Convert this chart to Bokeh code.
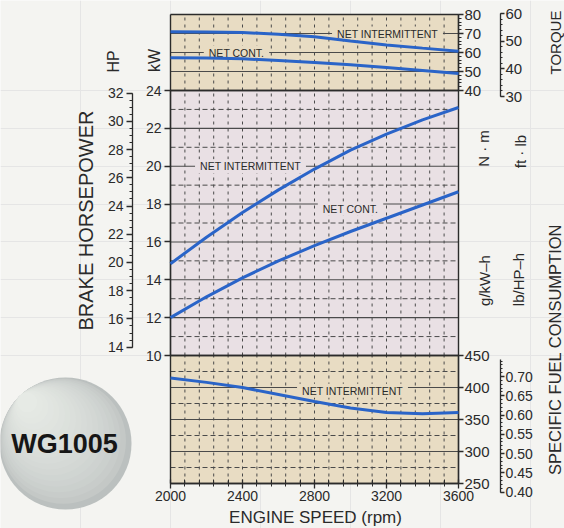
import numpy as np
from bokeh.plotting import figure
from bokeh.models import Range1d, LinearAxis, FixedTicker, Label, PrintfTickFormatter
from bokeh.embed import file_html
from bokeh.resources import INLINE

# ---------------- data ----------------
rpm = [2000, 2200, 2400, 2600, 2800, 3000, 3200, 3400, 3600]
torque_intermittent = [70.9, 70.8, 70.5, 69.6, 68.3, 66.0, 64.0, 62.3, 60.7]      # N·m
torque_continuous = [57.2, 57.1, 56.7, 55.8, 54.7, 53.5, 52.1, 50.5, 48.9]        # N·m
power_intermittent = [14.85, 16.25, 17.55, 18.75, 19.85, 20.85, 21.7, 22.45, 23.1]  # kW
power_continuous = [12.0, 13.1, 14.1, 15.0, 15.8, 16.55, 17.25, 17.95, 18.65]      # kW
fuel_intermittent = [415, 408, 400, 389, 378, 368, 361, 359, 361]                   # g/kW-h

rpm_ticks = [2000, 2400, 2800, 3200, 3600]
kw_ticks = [10, 12, 14, 16, 18, 20, 22, 24]
hp_ticks = [14, 16, 18, 20, 22, 24, 26, 28, 30, 32]
nm_ticks = [40, 50, 60, 70, 80]
ftlb_ticks = [30, 40, 50, 60]
gkwh_ticks = [250, 300, 350, 400, 450]
lbhph_ticks = [0.40, 0.45, 0.50, 0.55, 0.60, 0.65, 0.70]

KW2HP = 1.341

# ---------------- layout (pixels) ----------------
W, H = 564, 528
PX_L, PX_R = 170, 458          # x pixel of 2000 / 3600 rpm
PY_TOP, PY_A, PY_B, PY_BOT = 14, 90, 355, 483

BG = "#f4f4f1"
TAN = "#e8dcc3"
PINK = "#e9e0e4"
GRID = "#4a4a4a"
AX = "#2b2b2b"
TXT = "#2a2a2a"
BLUE = "#2a64c8"
FONT = "Liberation Sans"

sx = (rpm_ticks[-1] - rpm_ticks[0]) / (PX_R - PX_L)
x_range = Range1d(rpm_ticks[0] - PX_L * sx, rpm_ticks[-1] + (W - PX_R) * sx)


def yrange(v_top, py_top, v_bot, py_bot):
    s = (v_top - v_bot) / (py_bot - py_top)
    return Range1d(start=v_bot - (H - py_bot) * s, end=v_top + py_top * s)


kw_range = yrange(kw_ticks[-1], PY_A, kw_ticks[0], PY_B)
torque_range = yrange(nm_ticks[-1], PY_TOP, nm_ticks[0], PY_A)
fuel_range = yrange(gkwh_ticks[-1], PY_B, gkwh_ticks[0], PY_BOT)
hp_range = Range1d(kw_range.start * KW2HP, kw_range.end * KW2HP)
ftlb_range = yrange(60, 13, 30, 96)
lbhp_range = yrange(0.70, 376, 0.40, 491.5)

skw = (kw_range.end - kw_range.start) / H


def X(px):
    return x_range.start + px * sx


def Y(py):
    return kw_range.end - py * skw


p = figure(width=W, height=H, x_range=x_range, y_range=kw_range, title=None,
           output_backend="svg", toolbar_location=None,
           x_axis_location=None, y_axis_location=None, min_border=0,
           background_fill_color=BG, border_fill_color=BG, outline_line_color=None)
p.extra_y_ranges = {"torque": torque_range, "hp": hp_range, "ftlb": ftlb_range,
                    "fuel": fuel_range, "lbhp": lbhp_range}

x0, x1 = rpm_ticks[0], rpm_ticks[-1]
panels = [("torque", nm_ticks[0], nm_ticks[-1], TAN),
          ("default", kw_ticks[0], kw_ticks[-1], PINK),
          ("fuel", gkwh_ticks[0], gkwh_ticks[-1], TAN)]

for name, lo, hi, col in panels:
    p.quad(left=[x0], right=[x1], bottom=[lo], top=[hi], y_range_name=name,
           fill_color=col, line_color=None)

# vertical dashed grid lines
rpm_grid = np.arange(x0 + 80, x1, 80)
for name, lo, hi, col in panels:
    p.segment(x0=rpm_grid, y0=lo, x1=rpm_grid, y1=hi, y_range_name=name,
              line_color=GRID, line_width=1, line_dash="3 4")

# horizontal grid lines
solid = {"torque": [50, 60, 70],
         "default": [12, 14, 16, 18, 20, 22],
         "fuel": [300, 350, 400]}
dashed = {"default": [11, 13, 15, 17, 19, 21, 23],
          "fuel": [275, 325, 375, 425]}
for name, vals in solid.items():
    p.segment(x0=x0, y0=vals, x1=x1, y1=vals, y_range_name=name,
              line_color=GRID, line_width=1.1)
for name, vals in dashed.items():
    p.segment(x0=x0, y0=vals, x1=x1, y1=vals, y_range_name=name,
              line_color=GRID, line_width=1, line_dash="5 3")

# panel borders
for name, lo, hi, col in panels:
    p.segment(x0=[x0, x1, x0, x0], y0=[lo, lo, lo, hi], x1=[x0, x1, x1, x1], y1=[hi, hi, lo, hi],
              y_range_name=name, line_color=AX, line_width=1.4)

# curves (drawn above the curve labels)
p.line(rpm, torque_intermittent, y_range_name="torque", line_color=BLUE, line_width=3, level="overlay")
p.line(rpm, torque_continuous, y_range_name="torque", line_color=BLUE, line_width=3, level="overlay")
p.line(rpm, power_intermittent, line_color=BLUE, line_width=3, level="overlay")
p.line(rpm, power_continuous, line_color=BLUE, line_width=3, level="overlay")
p.line(rpm, fuel_intermittent, y_range_name="fuel", line_color=BLUE, line_width=3, level="overlay")


# axes
def make_axis(side, loc, ticks, minor, bounds, y_name="default", fmt=None, size="14px",
              tick_out=5, minor_out=3, standoff=2, tick_in=0, minor_in=0):
    ax = LinearAxis(y_range_name=y_name, fixed_location=loc, bounds=bounds,
                    ticker=FixedTicker(ticks=list(ticks), minor_ticks=list(minor)),
                    axis_line_color=AX, axis_line_width=1.3,
                    major_tick_line_color=AX, major_tick_line_width=1.3,
                    minor_tick_line_color=AX, minor_tick_line_width=1,
                    major_tick_in=tick_in, major_tick_out=tick_out,
                    minor_tick_in=minor_in, minor_tick_out=minor_out,
                    major_label_standoff=standoff,
                    major_label_text_font=FONT, major_label_text_font_size=size,
                    major_label_text_color=TXT)
    if fmt:
        ax.formatter = PrintfTickFormatter(format=fmt)
    p.add_layout(ax, side)
    return ax


make_axis("below", gkwh_ticks[0], rpm_ticks, np.arange(x0, x1 + 1, 80), (x0, x1),
          y_name="fuel", tick_out=5, tick_in=4, minor_in=4, minor_out=3, standoff=2)
make_axis("left", x0, kw_ticks, [], (kw_ticks[0], kw_ticks[-1]), tick_out=6, standoff=3)
make_axis("left", X(132), hp_ticks, np.arange(14, 32.01, 0.5), (hp_ticks[0], hp_ticks[-1]),
          y_name="hp", tick_out=6, minor_out=3, standoff=3)
make_axis("right", x1, nm_ticks, np.arange(40, 80.1, 2), (nm_ticks[0], nm_ticks[-1]),
          y_name="torque", size="15px", tick_out=5, minor_out=3, standoff=1)
make_axis("right", X(500), ftlb_ticks, np.arange(30, 60.1, 2), (ftlb_ticks[0], ftlb_ticks[-1]),
          y_name="ftlb", size="15px", tick_out=4, minor_out=2, standoff=1)
make_axis("right", x1, gkwh_ticks, [], (gkwh_ticks[0], gkwh_ticks[-1]),
          y_name="fuel", size="15px", tick_out=5, standoff=1)
make_axis("right", X(500), lbhph_ticks, np.arange(0.40, 0.7451, 0.01), (0.40, 0.745),
          y_name="lbhp", fmt="%.2f", size="14px", tick_out=4, minor_out=2, standoff=1)

# badge (soft shaded disc)
C = np.array([65.0, 443.0])
R = 66.0
d = np.array([-0.68, -0.73])
d = d / np.linalg.norm(d)
T = C + R * d
N = 18
c_dark = np.array([0xbb, 0xc0, 0xbf])
c_light = np.array([0xe6, 0xea, 0xe5])
bx, by, br, bc = [], [], [], []
for k in range(N):
    t = k / (N - 1)
    r = R * (1 - 0.85 * t)
    c = T - r * d
    col = c_dark + (c_light - c_dark) * (t ** 0.55)
    bx.append(X(c[0]))
    by.append(Y(c[1]))
    br.append(r * sx)
    bc.append("#%02x%02x%02x" % tuple(int(v) for v in col))
p.circle(x=bx, y=by, radius=br, fill_color=bc, line_color=None)

p.add_layout(Label(x=X(64), y=Y(443), text="WG1005", text_font=FONT, text_font_style="bold",
                   text_font_size="27px", text_color="#161616",
                   text_align="center", text_baseline="middle"))

# titles
titles = [("HP", 113, 61, "16px", 90),
          ("kW", 154, 60, "16px", 90),
          ("BRAKE HORSEPOWER", 85, 220, "20px", 90),
          ("TORQUE", 555, 42, "15px", 90),
          ("N · m", 483, 148, "15px", 90),
          ("ft · lb", 520, 151, "15px", 90),
          ("g/kW–h", 484, 280, "15px", 90),
          ("lb/HP–h", 518, 279, "15px", 90),
          ("SPECIFIC FUEL CONSUMPTION", 554, 349, "16.5px", 90),
          ("ENGINE SPEED (rpm)", 315, 517, "17px", 0)]
for text, px, py, size, ang in titles:
    p.add_layout(Label(x=X(px), y=Y(py), text=text, angle=ang, angle_units="deg",
                       text_font=FONT, text_font_size=size, text_color=TXT,
                       text_align="center", text_baseline="middle"))

# curve labels
curve_labels = [("NET INTERMITTENT", X(387), 70, "torque", TAN),
                ("NET CONT.", X(236), 60, "torque", TAN),
                ("NET INTERMITTENT", X(250), 20, "default", PINK),
                ("NET CONT.", X(350), 17.75, "default", PINK),
                ("NET INTERMITTENT", X(352), 395, "fuel", TAN)]
for text, x, y, name, bg in curve_labels:
    p.add_layout(Label(x=x, y=y, y_range_name=name, text=text, text_font=FONT,
                       text_font_size="10.5px", text_color=TXT, text_align="center",
                       text_baseline="middle", background_fill_color=bg, padding=(5, 1)))

open("out.html", "w").write(file_html(p, INLINE))
